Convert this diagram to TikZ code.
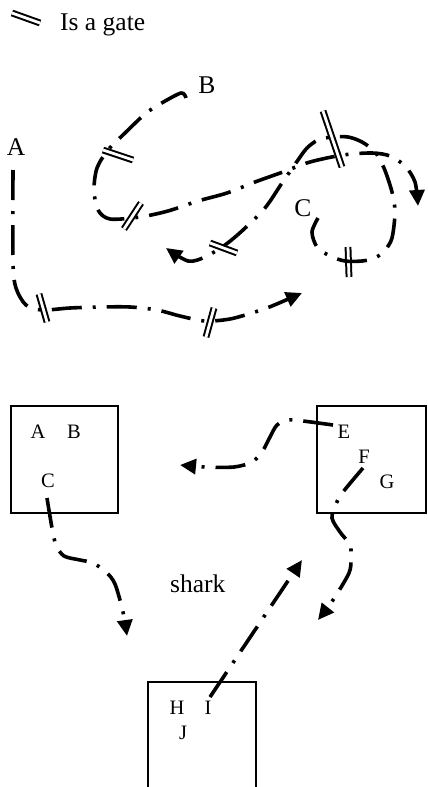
\documentclass[tikz,border=0pt]{standalone}
\usepackage{fontspec}
\setmainfont{Liberation Serif}
\usetikzlibrary{arrows.meta}
\begin{document}
\begin{tikzpicture}[x=1pt,y=-1pt,
  route/.style={line width=3.6pt, dash pattern=on 30pt off 11pt on 3pt off 11pt},
  tipped/.style={route, -{Triangle[length=16pt,width=15pt]}},
  gate/.style={double, double distance=2.8pt, line width=2pt},
  big/.style={font=\fontsize{25.5}{30}\selectfont, inner sep=0pt, anchor=base},
  small/.style={font=\fontsize{20.5}{24}\selectfont, inner sep=0pt, anchor=base},
  room/.style={draw, line width=1.4pt}]
\useasboundingbox (0,0) rectangle (428,787);

% legend
\draw[gate] (12,13) -- (40,23);
\node[big, anchor=base west] (legend) at (60,30) {Is a gate};

% labels of the upper map
\node[big] (lA) at (16,155) {A};
\node[big] (lB) at (207,93) {B};
\node[big] (lC) at (303,216) {C};

% gates on the routes
\draw[gate] (39,294) -- (47,322);
\draw[gate] (214,308) -- (206,337);
\draw[gate] (103,150) -- (133,160);
\draw[gate] (141,203) -- (124,229);
\draw[gate] (323,111) -- (342,167);
\draw[gate] (348,247) -- (349,277);
\draw[gate] (210,243) -- (237,253);

% route from A
\coordinate (a0) at (13,170);
\coordinate (a1) at (302,293);
\draw[tipped] plot[smooth, tension=0.5] coordinates {(a0) (13,262) (16,288) (26,305) (42,310) (70,308) (100,307) (130,307) (157,310) (180,316) (205,321) (230,319) (255,312) (272,306) (a1)};

% route from B
\coordinate (b0) at (186,98);
\coordinate (b1) at (418,206);
\draw[tipped] plot[smooth, tension=0.5] coordinates {(b0) (181,93) (160,104) (145,114) (125,133) (108,150) (97,168) (94,190) (98,210) (110,219) (140,217) (168,211) (198,201) (227,193) (255,182) (283,172) (310,162) (343,155) (372,153) (390,156) (405,166) (415,182) (b1)};

% route from C
\coordinate (c0) at (318,218);
\coordinate (c1) at (166,248);
\draw[tipped] plot[smooth, tension=0.5] coordinates {(c0) (312,232) (317,247) (330,256) (345,261) (362,261) (375,258) (385,250) (392,238) (395,212) (392,192) (384,168) (375,152) (362,142) (348,137) (332,137) (318,140) (307,148) (298,160) (282,183) (265,208) (243,230) (225,245) (205,257) (188,261) (c1)};

% rooms
\draw[room] (11,406) rectangle (118,513);
\draw[room] (317,406) rectangle (426,513);
\draw[room] (148,795) -- (148,682) -- (256,682) -- (256,795);

\node[small] (rA) at (38,438) {A};
\node[small] (rB) at (74,438) {B};
\node[small] (rC) at (48,487) {C};
\node[small] (rE) at (344,438) {E};
\node[small] (rF) at (364,463) {F};
\node[small] (rG) at (387,488) {G};
\node[small] (rH) at (177,714) {H};
\node[small] (rI) at (208,714) {I};
\node[small] (rJ) at (183,739) {J};
\node[big, anchor=base west] (shark) at (170,592) {shark};

% movements between rooms
\coordinate (d0) at (47,498);
\coordinate (d1) at (127,636);
\draw[tipped] plot[smooth, tension=0.5] coordinates {(d0) (52,528) (56,545) (64,556) (80,560) (93,563) (106,572) (115,584) (123,612) (d1)};

\coordinate (e0) at (333,425);
\coordinate (e1) at (180,465);
\draw[tipped] plot[smooth, tension=0.5] coordinates {(e0) (303,421) (288,420) (277,425) (270,437) (262,452) (252,462) (234,467) (205,467) (e1)};

\coordinate (f0) at (363,468);
\coordinate (f1) at (318,620);
\draw[tipped] plot[smooth, tension=0.5] coordinates {(f0) (343,492) (336,504) (332,518) (340,532) (350,545) (351,558) (349,573) (333,600) (f1)};

\coordinate (i0) at (210,697);
\coordinate (i1) at (302,560);
\draw[tipped] (i0) -- (i1);
\end{tikzpicture}
\end{document}
